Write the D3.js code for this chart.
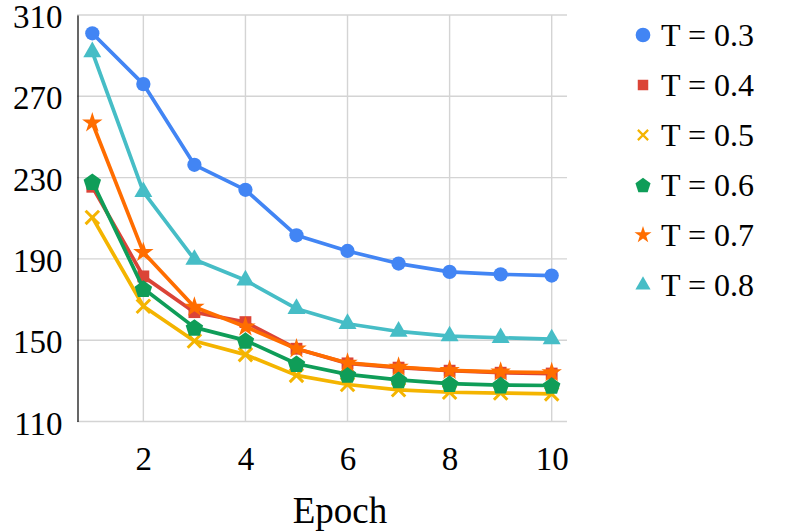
<!DOCTYPE html>
<html><head><meta charset="utf-8">
<script src="https://cdn.jsdelivr.net/npm/d3@7"></script>
<style>
html,body{margin:0;padding:0;background:#fff;}
text{font-family:"Liberation Serif","Times New Roman",serif;fill:#000;}
</style></head>
<body><svg id="chart" width="789" height="532"></svg>
<script>
const epochs = [1,2,3,4,5,6,7,8,9,10];
const seriesNames = ["T = 0.3","T = 0.4","T = 0.5","T = 0.6","T = 0.7","T = 0.8"];
const t03 = [301,276,236.3,224,201.6,193.9,187.7,183.6,182.4,181.8];
const t04 = [225.5,181.4,163.8,158.9,145.8,138.6,136.5,135,134,133.6];
const t05 = [210.4,166.7,149.6,142.9,132.7,128.2,125.6,124.4,124,123.6];
const t06 = [228,175.4,156.3,149.9,138.4,133.2,130.5,128.6,127.9,127.7];
const t07 = [257,193.2,166.3,156.6,145.8,138.8,136.8,135.2,134.4,134.1];
const t08 = [291.8,223,189.7,179.5,165.5,158.1,154.3,152,151.2,150.5];
const yTicks = [110,150,190,230,270,310];
const xTicks = [2,4,6,8,10];
const colors = ["#4285F4","#DB4437","#F4B400","#0F9D58","#FF6D00","#46BDC6"];

const pentagon = {draw(ctx,size){
  const R = Math.sqrt(size/2.3776);
  for(let i=0;i<5;i++){
    const a = -Math.PI/2 + i*2*Math.PI/5;
    const px = R*Math.cos(a), py = R*Math.sin(a)+R*0.1;
    if(i===0) ctx.moveTo(px,py); else ctx.lineTo(px,py);
  }
  ctx.closePath();
}};
const symTypes = [d3.symbolCircle,d3.symbolSquare,d3.symbolTimes,pentagon,d3.symbolStar,d3.symbolTriangle];
const symSizes = [160,140,120,200,130,140];
const legSizes = [170,110,70,150,90,100];

const data = [t03,t04,t05,t06,t07,t08];
const svg = d3.select("#chart");
const x = d3.scaleLinear().domain([0.7,10.3]).range([77,567]);
const y = d3.scaleLinear().domain([110,310]).range([421.5,15]);

// gridlines
svg.append("g").selectAll("line").data(yTicks).join("line")
  .attr("x1",77).attr("x2",567).attr("y1",d=>y(d)).attr("y2",d=>y(d))
  .attr("stroke","#d4d4d4").attr("stroke-width",1.4);
svg.append("g").selectAll("line").data(xTicks).join("line")
  .attr("x1",d=>x(d)).attr("x2",d=>x(d)).attr("y1",y(310)).attr("y2",y(110))
  .attr("stroke","#d4d4d4").attr("stroke-width",1.4);

// y axis
const yAxis = svg.append("g").attr("transform","translate(77.5,0)")
  .call(d3.axisLeft(y).tickValues(yTicks).tickSize(0).tickPadding(15).tickFormat(d3.format("d")));
yAxis.select(".domain").attr("stroke","#000").attr("stroke-width",1.2);
yAxis.selectAll("text").attr("font-size",33).attr("font-family","Liberation Serif").attr("dy","0.38em");

// x axis
const xAxis = svg.append("g").attr("transform","translate(0,421.5)")
  .call(d3.axisBottom(x).tickValues(xTicks).tickSize(0).tickPadding(25).tickFormat(d3.format("d")));
xAxis.select(".domain").remove();
xAxis.selectAll("text").attr("font-size",33).attr("font-family","Liberation Serif");

svg.append("text").attr("x",340).attr("y",523).attr("text-anchor","middle")
  .attr("font-size",37).text("Epoch");

// series
const line = d3.line().x((d,i)=>x(epochs[i])).y(d=>y(d));
data.forEach((vals,si)=>{
  const g = svg.append("g");
  g.append("path").datum(vals).attr("d",line).attr("fill","none")
    .attr("stroke",colors[si]).attr("stroke-width",3.7).attr("stroke-linejoin","round");
  const sym = d3.symbol().type(symTypes[si]).size(symSizes[si]);
  g.selectAll("path.m").data(vals).join("path").attr("class","m")
    .attr("transform",(d,i)=>`translate(${x(epochs[i])},${y(d)})`)
    .attr("d",sym)
    .attr("fill", si===2 ? "none" : colors[si])
    .attr("stroke", si===2 ? colors[si] : "none")
    .attr("stroke-width", si===2 ? 3 : 0);
});

// legend
const leg = svg.append("g");
seriesNames.forEach((name,si)=>{
  const cy = 35 + si*50;
  const sym = d3.symbol().type(symTypes[si]).size(legSizes[si]);
  leg.append("path").attr("transform",`translate(643,${cy})`).attr("d",sym)
    .attr("fill", si===2 ? "none" : colors[si])
    .attr("stroke", si===2 ? colors[si] : "none")
    .attr("stroke-width", si===2 ? 2.2 : 0);
  leg.append("text").attr("x",661).attr("y",cy).attr("dy","0.35em")
    .attr("font-size",32).text(name);
});
</script></body></html>
